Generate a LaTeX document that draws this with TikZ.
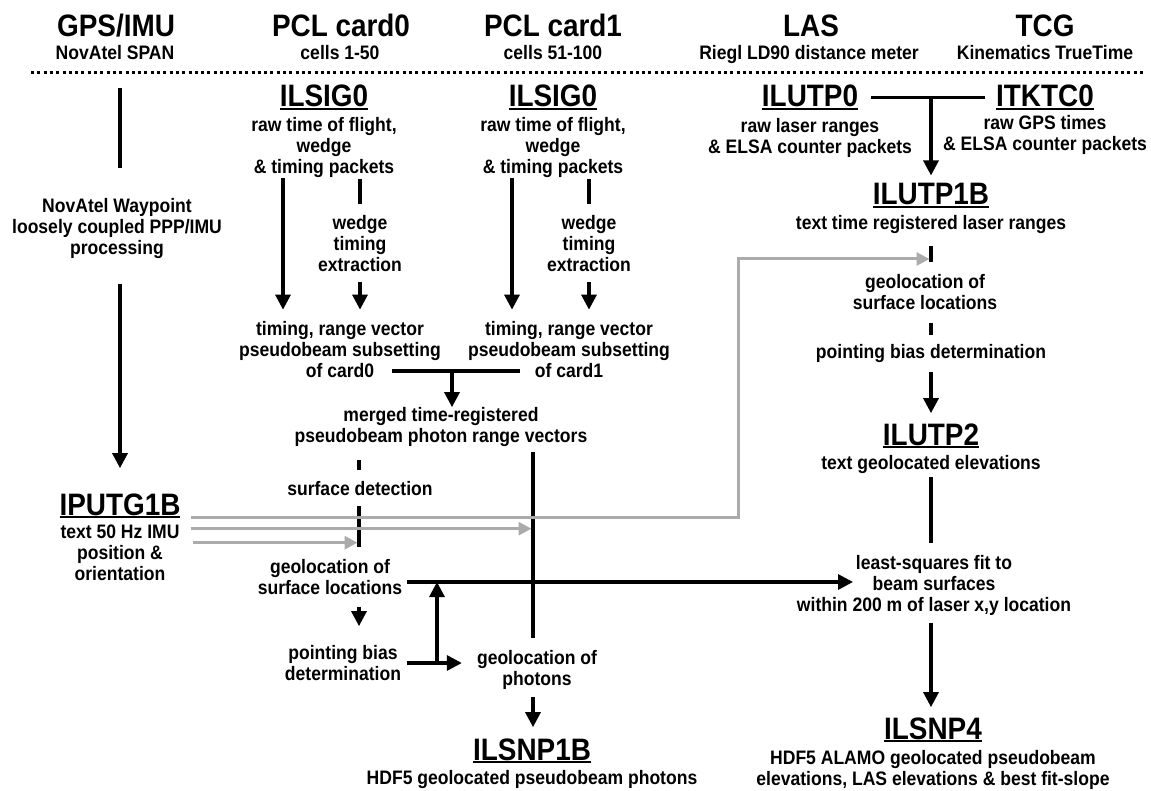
\documentclass[tikz,border=0pt]{standalone}
\usepackage{fontspec}
\setmainfont{Liberation Sans}[FakeStretch=0.9]
\usetikzlibrary{arrows.meta}

\newcommand{\headfont}{\fontsize{31}{34}\selectfont\bfseries}
\newcommand{\bodyfont}{\fontsize{19.5}{21}\selectfont\bfseries}
\newcommand{\ulined}[1]{\setbox0\hbox{#1}\rlap{\rule[-3pt]{\wd0}{2pt}}\box0}

\tikzset{
  hdrnode/.style={font=\headfont, inner sep=0pt, anchor=base},
  ttlnode/.style={font=\headfont, inner sep=0pt, anchor=base},
  subnode/.style={font=\bodyfont, inner sep=0pt, anchor=base},
  blk/.style={font=\bodyfont, inner sep=0pt, align=center},
  flow/.style={line width=3.2pt},
  flowarr/.style={flow, -{Triangle[length=15pt,width=15pt]}},
  feed/.style={line width=3pt, draw=black!33, -{Triangle[length=13pt,width=13pt]}},
}

\begin{document}
\begin{tikzpicture}[x=1pt,y=-1pt]
\useasboundingbox (0,0) rectangle (1151,791);

% instrument headers
\node[hdrnode] (gps)      at (116,36.5) {GPS/IMU};
\node[subnode] (gpssub)   at (115,60)   {NovAtel SPAN};
\node[hdrnode] (card0)    at (341,36.5) {PCL card0};
\node[subnode] (card0sub) at (340,60)   {cells 1-50};
\node[hdrnode] (card1)    at (553,36.5) {PCL card1};
\node[subnode] (card1sub) at (553,60)   {cells 51-100};
\node[hdrnode] (las)      at (811,36.5) {LAS};
\node[subnode] (lassub)   at (809,60)   {Riegl LD90 distance meter};
\node[hdrnode] (tcg)      at (1045,36.5) {TCG};
\node[subnode] (tcgsub)   at (1045,60)  {Kinematics TrueTime};
\draw[line width=3pt, dash pattern=on 3pt off 3.3pt] (31,73) -- (1144,73);

% GPS/IMU column
\node[blk] (waypoint) at (117,229) {NovAtel Waypoint\\loosely coupled PPP/IMU\\processing};
\node[ttlnode] (iputg) at (120,515) {\ulined{IPUTG1B}};
\node[blk] (iputgtxt) at (120,553) {text 50 Hz IMU\\position \&\\orientation};

% PCL card0 column
\node[ttlnode] (sig0a) at (324,107) {\ulined{ILSIG0}};
\node[blk] (sig0atxt) at (324,148) {raw time of flight,\\wedge\\\& timing packets};
\node[blk] (wedgea) at (360,244) {wedge\\timing\\extraction};
\node[blk] (tima) at (340,350) {timing, range vector\\pseudobeam subsetting\\of card0};

% PCL card1 column
\node[ttlnode] (sig0b) at (553,107) {\ulined{ILSIG0}};
\node[blk] (sig0btxt) at (553,148) {raw time of flight,\\wedge\\\& timing packets};
\node[blk] (wedgeb) at (589,244) {wedge\\timing\\extraction};
\node[blk] (timb) at (569,350) {timing, range vector\\pseudobeam subsetting\\of card1};

% merged photon processing
\node[blk] (merged) at (441,427) {merged time-registered\\pseudobeam photon range vectors};
\node[subnode] (surfdet) at (360,495) {surface detection};
\node[blk] (geosurf) at (330,577) {geolocation of\\surface locations};
\node[blk] (ptbias) at (343,663) {pointing bias\\determination};
\node[blk] (geophot) at (537,670) {geolocation of\\photons};
\node[ttlnode] (snp1b) at (532,760) {\ulined{ILSNP1B}};
\node[subnode] (snp1btxt) at (532,784) {HDF5 geolocated pseudobeam photons};

% LAS / TCG column
\node[ttlnode] (ilutp0) at (810,107) {\ulined{ILUTP0}};
\node[blk] (ilutp0txt) at (810,138) {raw laser ranges\\\& ELSA counter packets};
\node[ttlnode] (itktc0) at (1045,107) {\ulined{ITKTC0}};
\node[blk] (itktc0txt) at (1045,135) {raw GPS times\\\& ELSA counter packets};
\node[ttlnode] (utp1b) at (931,205) {\ulined{ILUTP1B}};
\node[subnode] (utp1btxt) at (931,230) {text time registered laser ranges};
\node[blk] (geoloc) at (925,292) {geolocation of\\surface locations};
\node[subnode] (ptbiasr) at (931,359) {pointing bias determination};
\node[ttlnode] (utp2) at (931,445) {\ulined{ILUTP2}};
\node[subnode] (utp2txt) at (931,469) {text geolocated elevations};
\node[blk] (lsq) at (934,585) {least-squares fit to\\beam surfaces\\within 200 m of laser x,y location};
\node[ttlnode] (snp4) at (933,739) {\ulined{ILSNP4}};
\node[blk] (snp4txt) at (933,770) {HDF5 ALAMO geolocated pseudobeam\\elevations, LAS elevations \& best fit-slope};

% column positions and junctions
\coordinate (c0a) at (283,0);
\coordinate (c1a) at (512,0);
\coordinate (colsd) at (359,0);
\coordinate (colph) at (533,0);
\coordinate (colup) at (437,0);
\coordinate (mergeL) at (392,371);
\coordinate (mergeR) at (520,371);
\coordinate (mergeJ) at (452,371);
\coordinate (lsqin) at (853,582);
\coordinate (gturn) at (738,259);

% GPS/IMU flow
\draw[flow, shorten <=28pt, shorten >=31pt] (gpssub.south -| iputg) -- (waypoint.north -| iputg);
\draw[flowarr, shorten <=25pt, shorten >=25pt] (waypoint.south -| iputg) -- (iputg.north);

% card flows
\draw[flowarr, shorten >=12pt] (sig0atxt.south -| c0a) -- (tima.north -| c0a);
\draw[flow, shorten <=1pt, shorten >=12pt] (sig0atxt.south -| wedgea) -- (wedgea.north);
\draw[flowarr, shorten <=10pt, shorten >=12pt] (wedgea.south) -- (tima.north -| wedgea);
\draw[flowarr, shorten >=12pt] (sig0btxt.south -| c1a) -- (timb.north -| c1a);
\draw[flow, shorten <=1pt, shorten >=12pt] (sig0btxt.south -| wedgeb) -- (wedgeb.north);
\draw[flowarr, shorten <=10pt, shorten >=12pt] (wedgeb.south) -- (timb.north -| wedgeb);
\draw[flow] (mergeL) -- (mergeR);
\draw[flowarr] (mergeJ) -- (merged.north -| mergeJ);

% surface and photon geolocation
\draw[flow, shorten <=13pt, shorten >=11pt] (merged.south -| colsd) -- (surfdet.north -| colsd);
\draw[flow, shorten <=11pt, shorten >=12pt] (surfdet.south -| colsd) -- (geosurf.north -| colsd);
\draw[flowarr, shorten <=12pt, shorten >=19pt] (geosurf.south -| colsd) -- (ptbias.north -| colsd);
\draw[flow, shorten <=5pt, shorten >=12pt] (merged.south -| colph) -- (geophot.north -| colph);
\draw[flowarr, shorten <=7pt, shorten >=11pt] (geophot.south -| colph) -- (snp1b.north -| colph);
\draw[flowarr, shorten <=5pt] (geosurf.east |- lsqin) -- (lsqin);
\draw[flowarr, shorten <=6pt, shorten >=15pt] (ptbias.east) -- (ptbias.east -| geophot.west);
\draw[flowarr] (ptbias.east -| colup) -- (lsqin -| colup);

% laser flow
\draw[flow, shorten <=13pt, shorten >=11pt] (ilutp0.east) -- (itktc0.west);
\draw[flowarr, shorten >=8pt] (ilutp0.east -| utp1b) -- (utp1b.north);
\draw[flow, shorten <=12pt, shorten >=12pt] (utp1btxt.south) -- (geoloc.north -| utp1b);
\draw[flow, shorten <=13pt, shorten >=10pt] (geoloc.south -| utp1b) -- (ptbiasr.north);
\draw[flowarr, shorten <=9pt, shorten >=10pt] (ptbiasr.south) -- (utp2.north);
\draw[flow, shorten <=4pt, shorten >=12pt] (utp2txt.south) -- (lsq.north -| utp1b);
\draw[flowarr, shorten <=8pt, shorten >=10pt] (lsq.south -| utp1b) -- (snp4.north -| utp1b);

% IMU feeds
\draw[feed, shorten <=10pt, shorten >=1.5pt] ([yshift=-12pt]iputg.east) -| (gturn) -- (gturn -| utp1b);
\draw[feed, shorten <=10pt, shorten >=1.5pt] ([yshift=-23pt]iputg.east) -- ([yshift=-23pt]iputg.east -| colph);
\draw[feed, shorten <=12pt, shorten >=1.5pt] ([yshift=-37pt]iputg.east) -- ([yshift=-37pt]iputg.east -| colsd);
\end{tikzpicture}
\end{document}
